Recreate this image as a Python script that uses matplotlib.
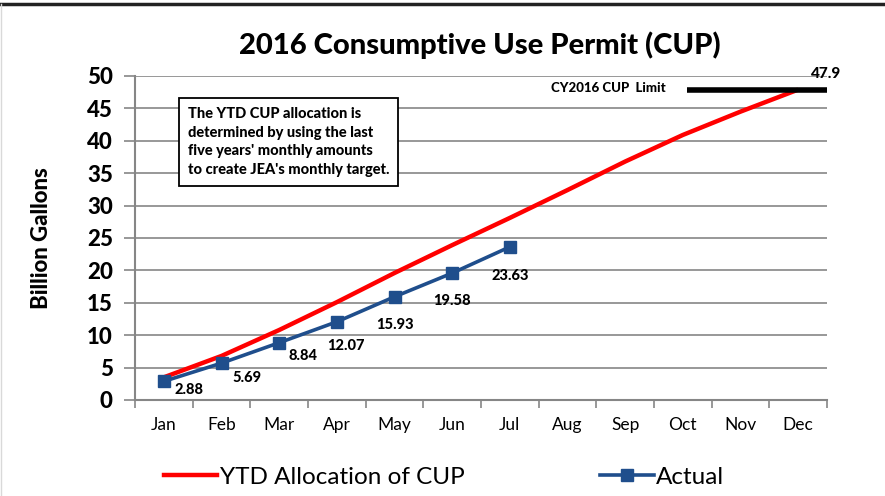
import matplotlib
matplotlib.use("Agg")
import matplotlib.pyplot as plt
from matplotlib.lines import Line2D

months = ["Jan", "Feb", "Mar", "Apr", "May", "Jun", "Jul", "Aug", "Sep", "Oct", "Nov", "Dec"]
ytd_allocation = [3.5, 6.8, 10.8, 15.1, 19.6, 23.9, 28.1, 32.4, 36.8, 40.9, 44.5, 47.9]
actual = [2.88, 5.69, 8.84, 12.07, 15.93, 19.58, 23.63]
actual_labels = ["2.88", "5.69", "8.84", "12.07", "15.93", "19.58", "23.63"]
cup_limit = 47.9
yticks = [0, 5, 10, 15, 20, 25, 30, 35, 40, 45, 50]

FONT = "Lato"
plt.rcParams["font.family"] = [FONT, "DejaVu Sans"]

fig = plt.figure(figsize=(8.85, 4.96), dpi=100)
ax = fig.add_axes([135 / 885, 1 - 400 / 496, 692 / 885, 324 / 496])

x = list(range(len(months)))
ax.plot(x, ytd_allocation, color="#FF0000", lw=3.2, solid_capstyle="butt", zorder=3)
ax.plot(x[:len(actual)], actual, color="#1F4E8C", lw=2.6, marker="s", ms=9,
        markerfacecolor="#1F4E8C", markeredgecolor="#1F4E8C", zorder=4)

# data labels (pixel offsets)
offsets = [(25, -9), (25, -15), (24, -13), (9, -24), (0, -28), (0, -28), (0, -29)]
for xi, v, lab, (dx, dy) in zip(x, actual, actual_labels, offsets):
    ax.annotate(lab, (xi, v), xytext=(dx * 0.72, dy * 0.72), textcoords="offset points",
                ha="center", va="center", fontsize=10.5, fontweight="black", color="black")

# limit line
ax.hlines(cup_limit, 9.07, 11.5, color="black", lw=4, zorder=5)
ax.text(8.70, cup_limit + 0.3, "CY2016 CUP  Limit", fontsize=9.5, fontweight="black",
        ha="right", va="center")
ax.text(11.48, cup_limit + 2.4, f"{cup_limit}", fontsize=11, fontweight="black",
        ha="center", va="center")

ax.set_xlim(-0.5, 11.5)
ax.set_ylim(0, 50)
ax.set_yticks(yticks)
ax.set_yticklabels([str(t) for t in yticks], fontsize=16, fontweight="black")
ax.set_xticks([i - 0.5 for i in range(13)], minor=False)
ax.set_xticklabels([])
ax.set_xticks(x, minor=True)
ax.set_xticklabels(months, minor=True, fontsize=12.5)
ax.tick_params(axis="x", which="minor", length=0, pad=12)
ax.tick_params(axis="x", which="major", length=6, color="#868686", direction="out", width=1.2)
ax.tick_params(axis="y", length=8, color="#868686", pad=8, width=1.2)

ax.yaxis.grid(True, color="#868686", lw=1.2)
ax.xaxis.grid(False)
ax.set_axisbelow(True)
for s in ["top", "right"]:
    ax.spines[s].set_visible(False)
for s in ["left", "bottom"]:
    ax.spines[s].set_color("#868686")
    ax.spines[s].set_linewidth(1.5)

ax.set_ylabel("Billion Gallons", fontsize=16, fontweight="black", labelpad=25)
fig.text(480 / 885, 1 - 45 / 496, "2016 Consumptive Use Permit (CUP)", fontsize=21,
         fontweight="black", ha="center", va="center")

# annotation box
fig.text(188 / 885, 1 - 142 / 496,
         "The YTD CUP allocation is\ndetermined by using the last\nfive years' monthly amounts\nto create JEA's monthly target.",
         fontsize=10.5, fontweight="black", ha="left", va="center", linespacing=1.45,
         bbox=dict(boxstyle="square,pad=0.6", facecolor="white", edgecolor="black", lw=1.3),
         zorder=10)

# legend
h1 = Line2D([], [], color="#FF0000", lw=3.2)
h2 = Line2D([], [], color="#1F4E8C", lw=2.6, marker="s", ms=9)
fig.legend([h1, h2], ["YTD Allocation of CUP", "Actual"], loc="center",
           bbox_to_anchor=(444 / 885, 1 - 477 / 496), ncol=2, frameon=False,
           fontsize=17.5, handlelength=2.2, handletextpad=0.1, columnspacing=5.6)

# outer frame lines
fig.add_artist(Line2D([0, 1], [1 - 4 / 496, 1 - 4 / 496], transform=fig.transFigure,
                      color="#222222", lw=2.5))
fig.add_artist(Line2D([1 / 885, 1 / 885], [0, 1 - 4 / 496], transform=fig.transFigure,
                      color="#D9D9D9", lw=1))

fig.savefig("out.png", dpi=100)
